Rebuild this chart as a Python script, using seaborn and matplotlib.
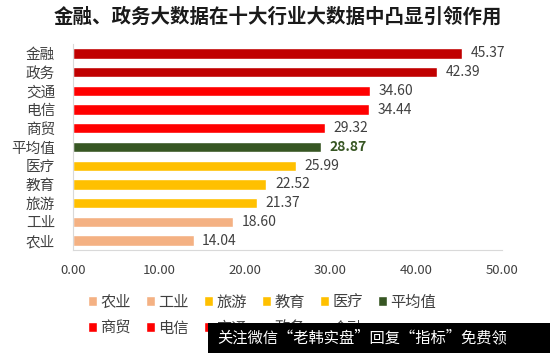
import pandas as pd
import numpy as np

import matplotlib
matplotlib.use('Agg')
import matplotlib.pyplot as plt
import seaborn as sns
from matplotlib.patches import Rectangle


# chart data, top bar first
industries = ['金融', '政务', '交通', '电信', '商贸', '平均值',
              '医疗', '教育', '旅游', '工业', '农业']
scores = [45.37, 42.39, 34.60, 34.44, 29.32, 28.87,
          25.99, 22.52, 21.37, 18.60, 14.04]
bar_colors = ['#C00000', '#C00000', '#FF0000', '#FF0000', '#FF0000', '#375623',
              '#FFC000', '#FFC000', '#FFC000', '#F4B183', '#F4B183']
x_ticks = [0, 10, 20, 30, 40, 50]

title = '金融、政务大数据在十大行业大数据中凸显引领作用'
watermark = '关注微信“老韩实盘”回复“指标”免费领'

df = pd.DataFrame({'industry': industries, 'score': scores})
palette = dict(zip(industries, bar_colors))

sns.set_style('white')
plt.rcParams['font.family'] = ['Noto Sans CJK SC', 'DejaVu Sans']

fig = plt.figure(figsize=(5.5, 3.53), dpi=100)
ax = fig.add_axes([0.133, 0.292, 0.78, 0.583])

sns.barplot(data=df, x='score', y='industry', hue='industry', palette=palette,
            order=industries, hue_order=industries, dodge=False, width=0.55,
            saturation=1, legend=True, ax=ax)

# value labels at bar ends
for i, (name, val) in enumerate(zip(industries, scores)):
    is_avg = name == '平均值'
    ax.text(val + 1.0, i, f'{val:.2f}', va='center', ha='left', fontsize=10,
            color='#375623' if is_avg else '#404040',
            fontweight='bold' if is_avg else 'normal')

ax.set_xlim(0, 50)
ax.set_ylim(10.5, -0.5)
ax.set_xticks(x_ticks)
ax.set_xticklabels([f'{t:.2f}' for t in x_ticks], fontsize=9.5, color='#404040')
ax.tick_params(axis='x', length=0, pad=10)
ax.tick_params(axis='y', length=0, pad=13, labelsize=10.5, labelcolor='#404040')
ax.set_xlabel('')
ax.set_ylabel('')
for side in ['top', 'right']:
    ax.spines[side].set_visible(False)
ax.spines['left'].set_color('#D9D9D9')
ax.spines['bottom'].set_color('#D9D9D9')

# legend: bottom-up order, filled row by row in 6 columns
handles, labels = ax.get_legend_handles_labels()
lookup = dict(zip(labels, handles))
leg_order = industries[::-1]
row1, row2 = leg_order[:6], leg_order[6:]
arranged = []
for k in range(6):
    arranged.append(row1[k])
    if k < len(row2):
        arranged.append(row2[k])
ax.legend([lookup[n] for n in arranged], arranged, ncol=6,
          loc='upper center', bbox_to_anchor=(0.44, -0.145), frameon=False,
          fontsize=11, handlelength=0.6, handleheight=0.6, handletextpad=0.2,
          columnspacing=1.0, labelspacing=0.6, labelcolor='#404040')

fig.text(0.505, 0.952, title, ha='center', va='center', fontsize=14,
         fontweight='bold', color='#1a1a1a')

# watermark box at the bottom right, running off the edge
fig.patches.append(Rectangle((0.378, 0.0), 0.63, 0.086, transform=fig.transFigure,
                             facecolor='black', edgecolor='none', zorder=5))
fig.text(0.395, 0.043, watermark, ha='left', va='center', fontsize=11,
         color='white', zorder=6)

fig.savefig('out.png', dpi=100)
